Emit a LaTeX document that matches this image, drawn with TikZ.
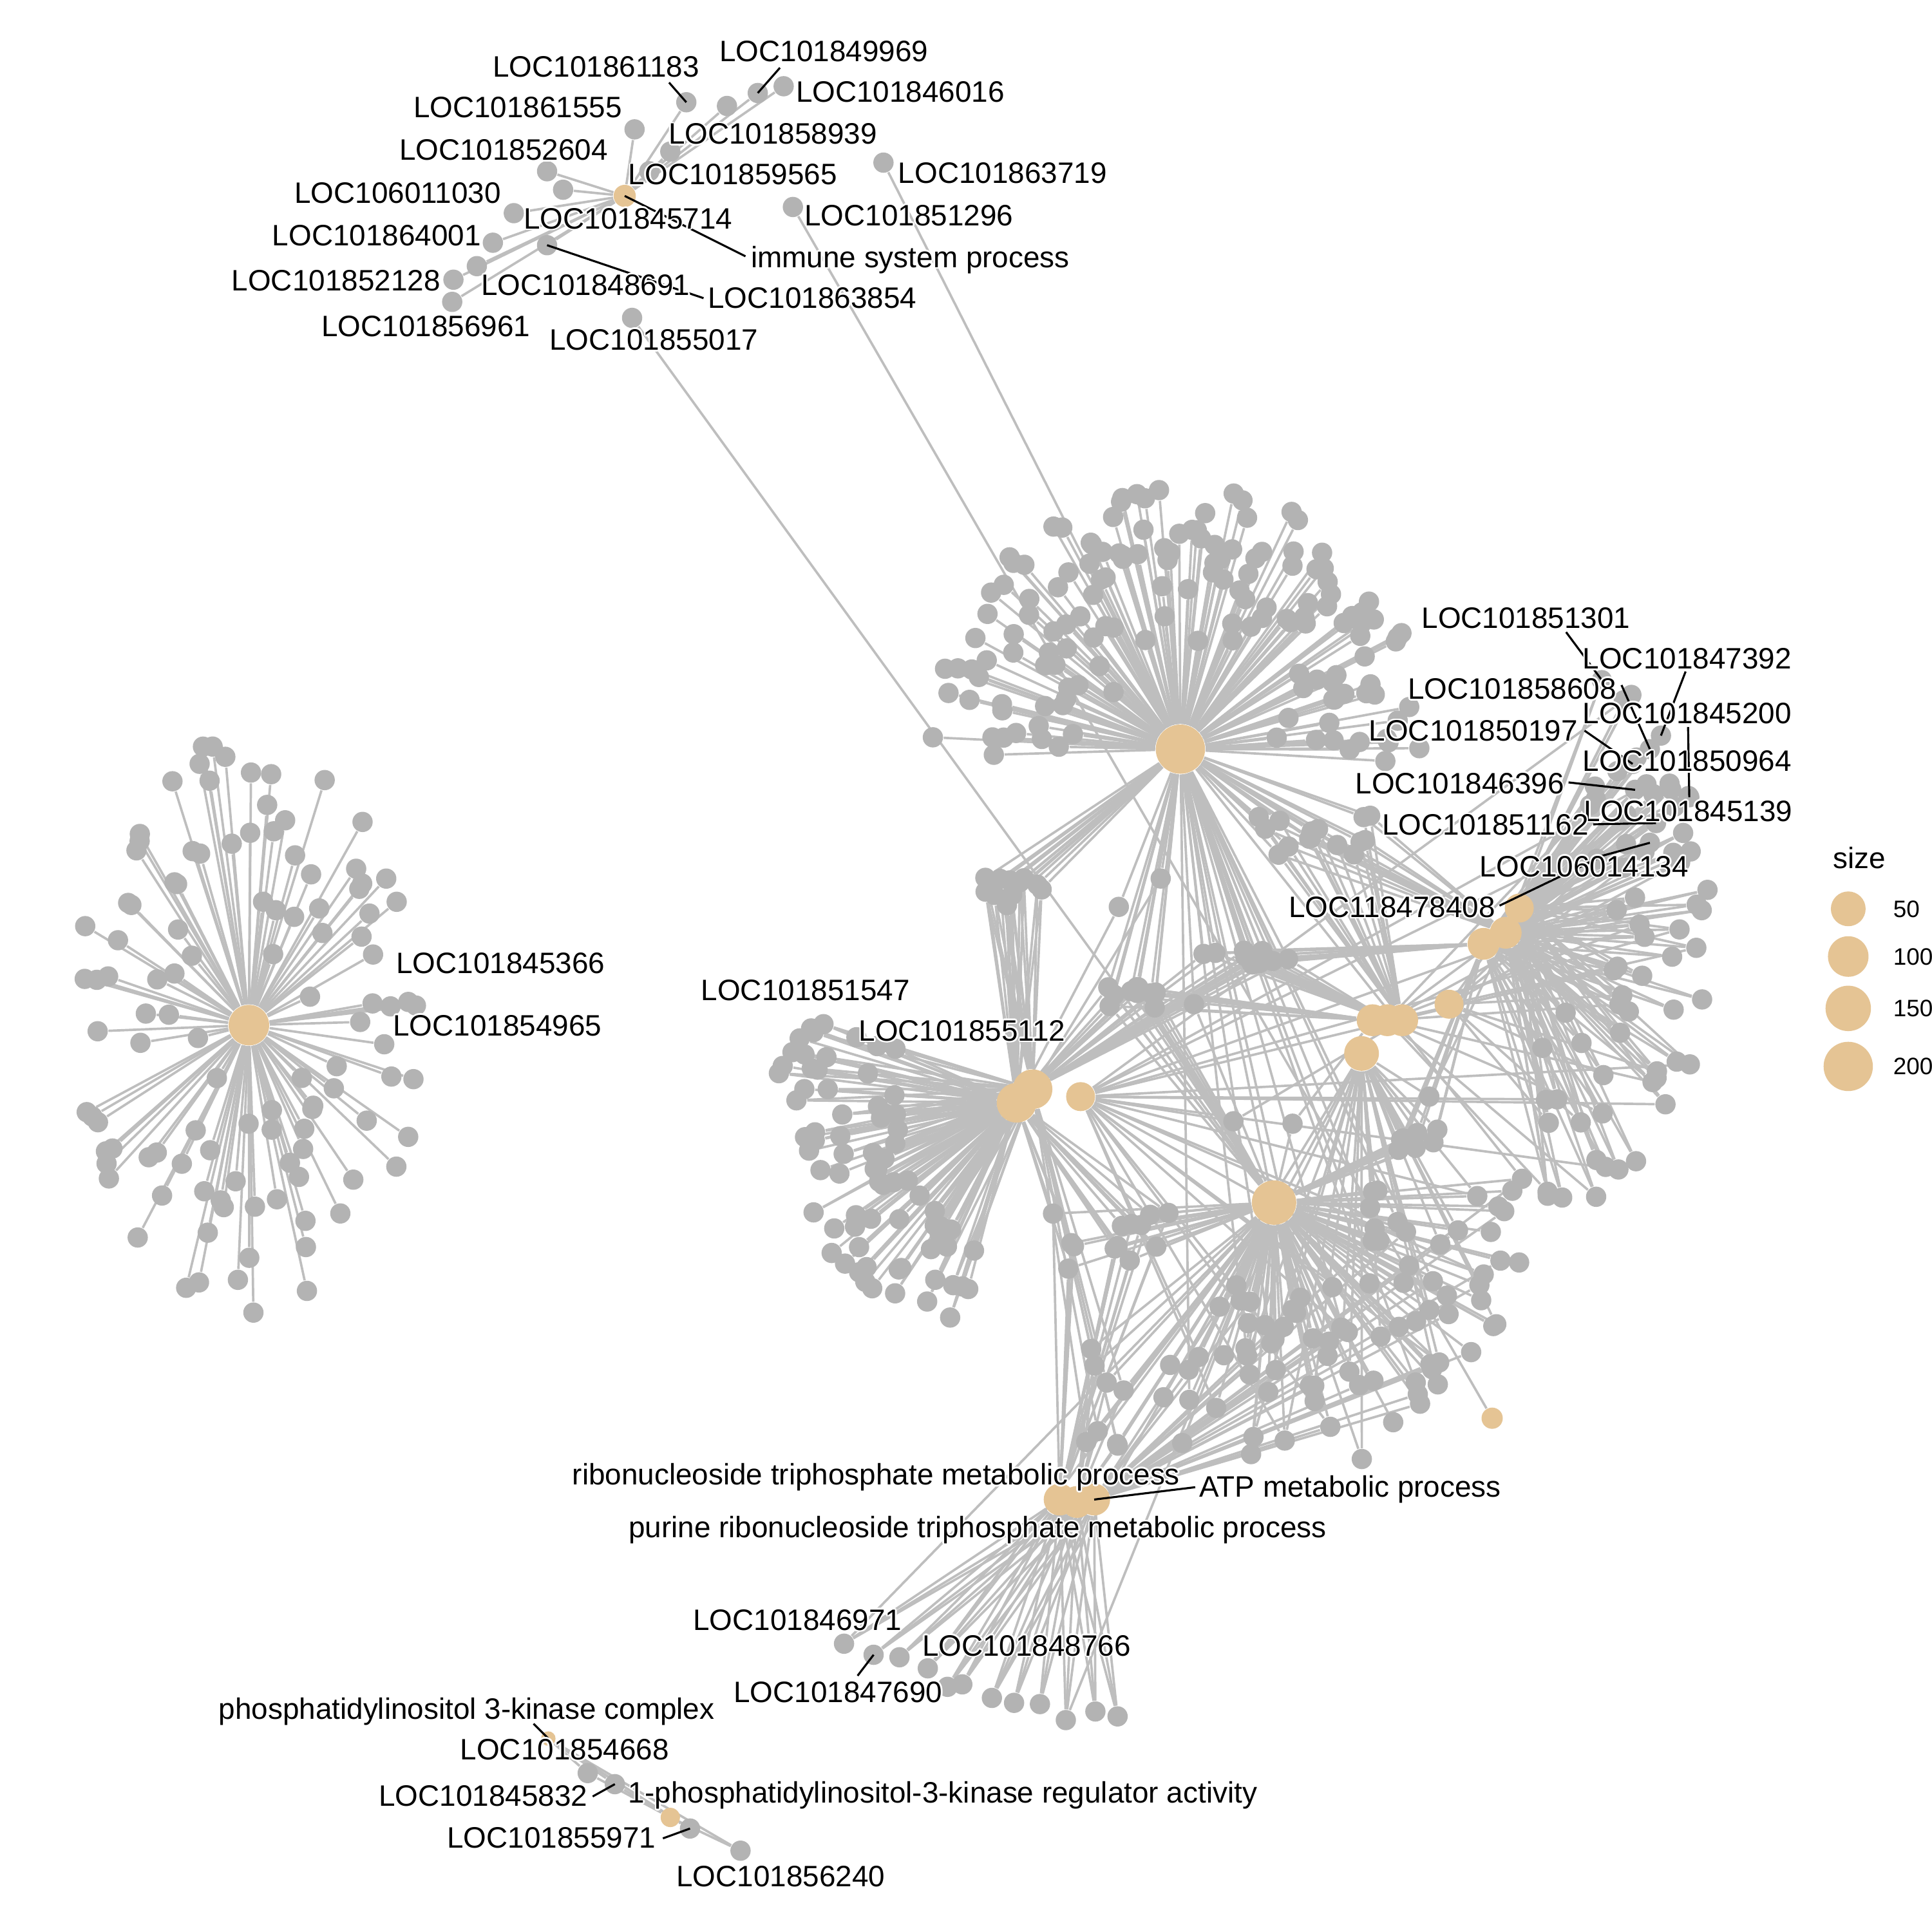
\documentclass[tikz,border=0pt]{standalone}
\usepackage{fontspec}
\setmainfont{Liberation Sans}
\definecolor{genegray}{HTML}{B3B3B3}
\definecolor{linkgray}{HTML}{BEBEBE}
\definecolor{termtan}{HTML}{E5C494}
\pgfdeclarelayer{bg}
\pgfsetlayers{bg,main}

% white outline round a label
\newcommand{\haloed}[1]{%
  \rlap{\color{white}\kern0.5pt#1}\rlap{\color{white}\kern-0.5pt#1}%
  \rlap{\color{white}\raise0.5pt\hbox{#1}}\rlap{\color{white}\lower0.5pt\hbox{#1}}%
  \rlap{\color{white}\kern0.35pt\raise0.35pt\hbox{#1}}\rlap{\color{white}\kern-0.35pt\raise0.35pt\hbox{#1}}%
  \rlap{\color{white}\kern0.35pt\lower0.35pt\hbox{#1}}\rlap{\color{white}\kern-0.35pt\lower0.35pt\hbox{#1}}%
  #1}

\tikzset{
  gene/.style={circle, fill=genegray, inner sep=0pt, minimum size=0.21cm},
  term/.style={circle, fill=termtan, inner sep=0pt, minimum size=#1},
  term/.default=0.33cm,
  link/.style={draw=linkgray, line width=0.7pt},
  lead/.style={draw=black, line width=0.6pt},
  lab/.style={anchor=base west, inner sep=0pt, font=\fontsize{8.7}{10}\selectfont},
  keytext/.style={anchor=base west, inner sep=0pt, font=\fontsize{7}{8}\selectfont},
}

\def\clumps{ca/12/792/712/58/26/{ctr,wa,wb}, cb/10/899/801/44/17/{ctr,wa,sth,ma},
    cc/12/976/767/76/19/{ctr,mb,wb,ea}, cd/15/1020/655/95/40/{ctr,eb,mc},
    ce/14/850/982/100/63/{wa,sth,pa}, cf/8/870/1092/50/83/{sth,pb,wb},
    cg/8/1130/916/45/24/{md,ea,sth}}

\begin{document}
\begin{tikzpicture}[x=0.012755cm, y=-0.012755cm]
    \useasboundingbox (0,0) rectangle (1568,1568);
    \pgfmathsetseed{2718}

    % terms
    \node[term=0.42cm] (lft) at (202,832) {};
    \node[term=0.23cm] (imm) at (507,159) {};
    \node[term=0.51cm] (ctr) at (958,608) {};
    \node[term=0.41cm] (wa) at (825,895) {};
    \node[term=0.41cm] (wb) at (838,884) {};
    \node[term=0.30cm] (wc) at (877,890) {};
    \node[term=0.33cm] (ma) at (1114,828) {};
    \node[term=0.33cm] (mb) at (1126,828) {};
    \node[term=0.33cm] (mc) at (1138,828) {};
    \node[term=0.36cm] (md) at (1105,855) {};
    \node[term=0.30cm] (me) at (1176,815) {};
    \node[term=0.33cm] (ea) at (1204,766) {};
    \node[term=0.33cm] (eb) at (1222,757) {};
    \node[term=0.30cm] (ec) at (1233,737) {};
    \node[term=0.46cm] (sth) at (1034,976) {};
    \node[term=0.22cm] (tiny) at (1211,1151) {};
    \node[term=0.33cm] (pa) at (860,1217) {};
    \node[term=0.33cm] (pb) at (874,1219) {};
    \node[term=0.33cm] (pc) at (888,1217) {};
    \node[term=0.15cm] (pik) at (445,1411) {};
    \node[term=0.20cm] (reg) at (544,1475) {};

    % genes
    \foreach \x/\y [count=\i] in {557/83, 590/86, 615/75.5, 636/70, 515/105, 544/123, 527/139, 444/139,
        457/154, 417/173, 400/197, 444/199, 387/216, 368/227, 367/245}
        \node[gene] (im\i) at (\x,\y) {};
    \node[gene] (gA) at (513,258) {};
    \node[gene] (gB) at (643.5,168) {};
    \node[gene] (gC) at (717,132) {};

    \foreach \i in {1,...,110}{
        \pgfmathsetmacro{\ang}{\i*3.2727+6*rand}
        \pgfmathsetmacro{\rr}{0.22+0.78*sqrt(rnd)}
        \node[gene] (l\i) at ({202+142*\rr*cos(\ang)},{832+236*\rr*sin(\ang)}) {};
    }
    \foreach \i in {1,...,150}{
        \pgfmathsetmacro{\ang}{178+\i*1.23+3*rand}
        \pgfmathsetmacro{\rr}{0.3+0.7*sqrt(rnd)}
        \node[gene] (t\i) at ({958+205*\rr*cos(\ang)},{608+215*\rr*sin(\ang)}) {};
    }
    \foreach \i in {1,...,75}{
        \pgfmathsetmacro{\ang}{104+\i*1.35+3*rand}
        \pgfmathsetmacro{\rr}{95+100*rnd}
        \node[gene] (w\i) at ({825+\rr*cos(\ang)},{895+\rr*sin(\ang)}) {};
    }
    \foreach \i in {1,...,85}{
        \pgfmathsetmacro{\ang}{-8+\i*1.52+3*rand}
        \pgfmathsetmacro{\rr}{70+150*rnd}
        \node[gene] (b\i) at ({1034+\rr*cos(\ang)},{976+\rr*sin(\ang)}) {};
    }
    \foreach \i in {1,...,60}{
        \pgfmathsetmacro{\ang}{-55+\i*2.2+3*rand}
        \pgfmathsetmacro{\rr}{0.35+0.65*sqrt(rnd)}
        \node[gene] (r\i) at ({1215+180*\rr*cos(\ang)},{760+240*\rr*sin(\ang)}) {};
    }
    \foreach \x/\y [count=\i] in {1300/552, 1324/564, 1348/597, 1339/608, 1325/620, 1355/636,
        1327/641, 1371/647, 1344/668, 1339/684, 1366/676, 1296/697}
        \node[gene] (rx\i) at (\x,\y) {};
    \foreach \c/\n/\xa/\ya/\w/\h/\hubs in \clumps{
        \foreach \i in {1,...,\n}
            \node[gene] (\c\i) at ({\xa+\w*rnd},{\ya+\h*rnd}) {};
    }
    \foreach \x/\y [count=\i] in {942/713, 908/736, 969/815, 1049/912, 1001/910, 1160/890}
        \node[gene] (s\i) at (\x,\y) {};
    \foreach \x/\y [count=\i] in {685/1334, 709/1343, 730/1345, 753/1354, 769/1369, 781/1367,
        805/1378, 823/1382, 844/1383, 865/1396, 889/1389, 907/1393}
        \node[gene] (a\i) at (\x,\y) {};
    \foreach \x/\y [count=\i] in {477/1439, 499/1448, 560/1484, 601/1502}
        \node[gene] (p\i) at (\x,\y) {};

    % edges
    \begin{pgfonlayer}{bg}
        \fill[white] (0,0) rectangle (1568,1568);
        \foreach \i in {1,...,15} \draw[link] (imm) -- (im\i);
        \draw[link] (gA) -- (sth);
        \draw[link] (gB) -- (tiny);
        \draw[link] (gC) -- (ctr);
        \foreach \i in {1,...,110} \draw[link] (lft) -- (l\i);
        \foreach \i in {1,...,150} \draw[link] (ctr) -- (t\i);
        \foreach \i in {1,...,75}{
            \draw[link] (wa) -- (w\i);
            \ifodd\i \draw[link] (wb) -- (w\i); \fi
        }
        \foreach \i in {1,...,85}{
            \pgfmathtruncatemacro{\mt}{mod(\i,3)}
            \pgfmathtruncatemacro{\mf}{mod(\i,4)}
            \pgfmathtruncatemacro{\ms}{mod(\i,7)}
            \draw[link] (sth) -- (b\i);
            \ifnum\mt=0 \draw[link] (pc) -- (b\i); \fi
            \ifnum\mf=1 \draw[link] (md) -- (b\i); \fi
            \ifnum\ms=3 \draw[link] (ctr) -- (b\i); \fi
            \ifnum\ms=5 \draw[link] (wc) -- (b\i); \fi
        }
        \foreach \i in {1,...,60}{
            \pgfmathtruncatemacro{\mt}{mod(\i,6)}
            \draw[link] (eb) -- (r\i);
            \ifodd\i \draw[link] (ec) -- (r\i); \else \draw[link] (ea) -- (r\i); \fi
            \ifnum\mt=0 \draw[link] (mb) -- (r\i); \fi
            \ifnum\mt=3 \draw[link] (me) -- (r\i); \fi
            \ifnum\mt=1 \draw[link] (wc) -- (r\i); \fi
        }
        \foreach \i in {1,...,12}{
            \draw[link] (eb) -- (rx\i);
            \draw[link] (ec) -- (rx\i);
        }
        \foreach \c/\n/\xa/\ya/\w/\h/\hubs in \clumps{
            \foreach \i in {1,...,\n}{
                \foreach \hb in \hubs \draw[link] (\hb) -- (\c\i);
            }
        }
        \foreach \p/\q [count=\i] in {ctr/wb, ctr/wa, ctr/sth, ma/sth, wc/mc, md/ec}{
            \draw[link] (\p) -- (s\i);
            \draw[link] (\q) -- (s\i);
        }
        \foreach \i in {1,...,12}{
            \pgfmathtruncatemacro{\mt}{mod(\i,3)}
            \draw[link] (pa) -- (a\i);
            \draw[link] (pb) -- (a\i);
            \draw[link] (pc) -- (a\i);
            \ifnum\mt=1 \draw[link] (sth) -- (a\i); \fi
        }
        \foreach \i in {1,...,4}{
            \draw[link] (pik) -- (p\i);
            \draw[link] (reg) -- (p\i);
        }
    \end{pgfonlayer}

    % leader lines
    \coordinate (e1) at (543,67);
    \coordinate (e2) at (633,55);
    \coordinate (e3) at (605,208);
    \coordinate (e4) at (571,242);
    \coordinate (e5) at (1271,513);
    \coordinate (e6) at (1316,556);
    \coordinate (e7) at (1368,545);
    \coordinate (e8) at (1370,590);
    \coordinate (e9) at (1286,593);
    \coordinate (e10) at (1273,635);
    \coordinate (e11) at (1293,669);
    \coordinate (e12) at (1295,696);
    \coordinate (e13) at (1217,735);
    \coordinate (e14) at (970,1207);
    \coordinate (e15) at (696,1360);
    \coordinate (e16) at (433,1399);
    \coordinate (e17) at (481,1458);
    \coordinate (e18) at (538,1492);
    \draw[lead] (e1) -- (im1.center);
    \draw[lead] (e2) -- (im3.center);
    \draw[lead] (e3) -- (imm.center);
    \draw[lead] (e4) -- (im12.center);
    \draw[lead] (e5) -- (rx1.center);
    \draw[lead] (e6) -- (rx4.center);
    \draw[lead] (e7) -- (rx3.center);
    \draw[lead] (e8) -- (rx8.center);
    \draw[lead] (e9) -- (rx5.center);
    \draw[lead] (e10) -- (rx7.center);
    \draw[lead] (e11) -- (rx9.center);
    \draw[lead] (e12) -- (rx10.center);
    \draw[lead] (e13) -- (rx12.center);
    \draw[lead] (e14) -- (pc.center);
    \draw[lead] (e15) -- (a2.center);
    \draw[lead] (e16) -- (pik.center);
    \draw[lead] (e17) -- (p2.center);
    \draw[lead] (e18) -- (p3.center);

    % labels
    \node[lab] (n61183) at (399.5,62.7) {\haloed{LOC101861183}};
    \node[lab] (n49969) at (583.5,50) {\haloed{LOC101849969}};
    \node[lab] (n46016) at (645.5,83) {\haloed{LOC101846016}};
    \node[lab] (n61555) at (335,95.6) {\haloed{LOC101861555}};
    \node[lab] (n58939) at (542,117) {\haloed{LOC101858939}};
    \node[lab] (n52604) at (323.5,130) {\haloed{LOC101852604}};
    \node[lab] (n59565) at (509.5,150) {\haloed{LOC101859565}};
    \node[lab] (n63719) at (728.5,148.5) {\haloed{LOC101863719}};
    \node[lab] (n11030) at (238.5,164.8) {\haloed{LOC106011030}};
    \node[lab] (n45714) at (424.5,185.6) {\haloed{LOC101845714}};
    \node[lab] (n51296) at (652.5,183) {\haloed{LOC101851296}};
    \node[lab] (n64001) at (220.5,199.5) {\haloed{LOC101864001}};
    \node[lab] (nimm) at (609,217) {\haloed{immune system process}};
    \node[lab] (n52128) at (187.5,235.8) {\haloed{LOC101852128}};
    \node[lab] (n48691) at (390,239.4) {\haloed{LOC101848691}};
    \node[lab] (n63854) at (574,250) {\haloed{LOC101863854}};
    \node[lab] (n56961) at (260.5,273) {\haloed{LOC101856961}};
    \node[lab] (n55017) at (445.5,284) {\haloed{LOC101855017}};

    \node[lab] (n45366) at (321,790) {\haloed{LOC101845366}};
    \node[lab] (n54965) at (318.5,840.6) {\haloed{LOC101854965}};

    \node[lab] (n51301) at (1153.3,509.7) {\haloed{LOC101851301}};
    \node[lab] (n47392) at (1284,542.8) {\haloed{LOC101847392}};
    \node[lab] (n58608) at (1142,567.4) {\haloed{LOC101858608}};
    \node[lab] (n45200) at (1284,587.1) {\haloed{LOC101845200}};
    \node[lab] (n50197) at (1110.5,601.5) {\haloed{LOC101850197}};
    \node[lab] (n50964) at (1284,626) {\haloed{LOC101850964}};
    \node[lab] (n46396) at (1099.5,644.2) {\haloed{LOC101846396}};
    \node[lab] (n45139) at (1285,666.5) {\haloed{LOC101845139}};
    \node[lab] (n51162) at (1121.3,677.8) {\haloed{LOC101851162}};
    \node[lab] (n14134) at (1200.5,711.4) {\haloed{LOC106014134}};
    \node[lab] (n78408) at (1045.5,744.4) {\haloed{LOC118478408}};
    \node[lab] (n51547) at (568.5,812.2) {\haloed{LOC101851547}};
    \node[lab] (n55112) at (696.5,844.7) {\haloed{LOC101855112}};

    \node[lab] (nrtp) at (464,1205) {\haloed{ribonucleoside triphosphate metabolic process}};
    \node[lab] (natp) at (973,1215) {\haloed{ATP metabolic process}};
    \node[lab] (nprtp) at (509.7,1248) {\haloed{purine ribonucleoside triphosphate metabolic process}};
    \node[lab] (n46971) at (562,1323) {\haloed{LOC101846971}};
    \node[lab] (n48766) at (748,1343.8) {\haloed{LOC101848766}};
    \node[lab] (n47690) at (595,1381.4) {\haloed{LOC101847690}};
    \node[lab] (npik) at (177,1395) {\haloed{phosphatidylinositol 3-kinase complex}};
    \node[lab] (n54668) at (373,1428) {\haloed{LOC101854668}};
    \node[lab] (n45832) at (307,1466) {\haloed{LOC101845832}};
    \node[lab] (nreg) at (509.5,1463.4) {\haloed{1-phosphatidylinositol-3-kinase regulator activity}};
    \node[lab] (n55971) at (362.3,1499.7) {\haloed{LOC101855971}};
    \node[lab] (n56240) at (548.4,1531) {\haloed{LOC101856240}};

    % legend
    \node[lab] (ksize) at (1487,704.6) {size};
    \node[term=0.36cm] (k50) at (1500,737.6) {};
    \node[term=0.42cm] (k100) at (1500,776.3) {};
    \node[term=0.47cm] (k150) at (1500,818.4) {};
    \node[term=0.51cm] (k200) at (1500,865.5) {};
    \node[keytext] at (1536,744.4) {50};
    \node[keytext] at (1536,783.1) {100};
    \node[keytext] at (1536,825.2) {150};
    \node[keytext] at (1536,872.3) {200};
\end{tikzpicture}
\end{document}
